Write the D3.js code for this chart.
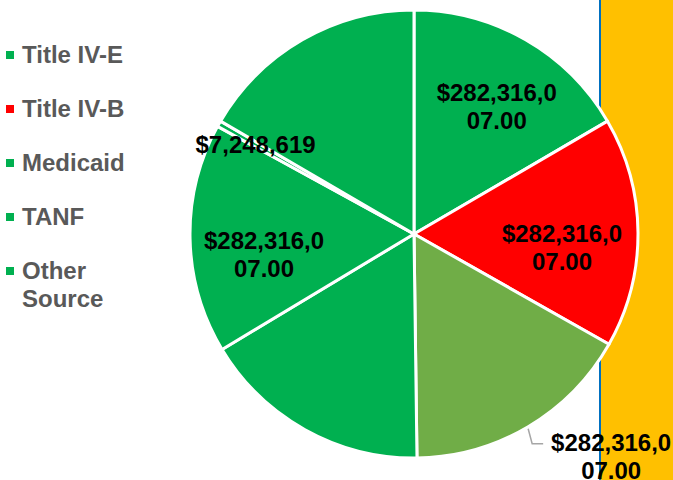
<!DOCTYPE html>
<html>
<head>
<meta charset="utf-8">
<script src="https://cdn.jsdelivr.net/npm/d3@7"></script>
<style>
  body { margin: 0; background: #fff; }
  svg { display: block; font-family: "Liberation Sans", Arial, sans-serif; }
</style>
</head>
<body>
<div class="canvas"></div>
<script>
// legend entries
const legendNames = ['Title IV-E', 'Title IV-B', 'Medicaid', 'TANF', 'Other Source'];
const legendColors = ['#00B050', '#FF0000', '#00B050', '#00B050', '#00B050'];

// slices, clockwise from 12 o'clock
const sliceValues = [282316007, 282316007, 282316007, 282316007, 282316007, 7248619, 282316007];
const sliceLabels = ['$282,316,007.00', '$282,316,007.00', '$282,316,007.00', '', '$282,316,007.00', '$7,248,619', ''];
const sliceColors = ['#00B050', '#FF0000', '#70AD47', '#00B050', '#00B050', '#00B050', '#00B050'];

const dims = {width: 673, height: 480, radius: 224};
const cent = {x: 414, y: 234};

const svg = d3.select('.canvas')
    .append('svg').attr('width', dims.width).attr('height', dims.height);

// orange shape sitting behind the pie on the right
svg.append('rect')
    .attr('x', 601).attr('y', 0).attr('width', 72).attr('height', dims.height)
    .attr('fill', '#FFC000');
svg.append('rect')
    .attr('x', 599).attr('y', 0).attr('width', 2).attr('height', dims.height)
    .attr('fill', '#0070C0');

const graph = svg.append('g').attr('transform', `translate(${cent.x},${cent.y})`);

const pie = d3.pie().value(d => d).sort(null);
const arcPath = d3.arc().innerRadius(0).outerRadius(dims.radius);

const arcs = pie(sliceValues);

graph.selectAll('path')
    .data(arcs)
    .enter().append('path')
        .attr('d', arcPath)
        .attr('fill', (d, i) => sliceColors[i])
        .attr('stroke', '#fff')
        .attr('stroke-width', 3)
        .attr('stroke-linejoin', 'round');

// wrap long labels after 10 chars, like the original
const wrap = s => s.length > 10 ? [s.slice(0, 10), s.slice(10)] : [s];
const lineH = 28;

// label placement tweaks (radius + block centre offsets)
const place = {
    0: {r: 148, dx: 9, dy: 1},
    1: {r: 148, dx: 0, dy: 14},
    4: {r: 150, dx: 0, dy: 17},
    5: {r: 182, dx: 0, dy: 0}
};

arcs.forEach((d, i) => {
    const txt = sliceLabels[i];
    if (!txt) return;
    const lines = wrap(txt);
    let cx, cy;
    const mid = (d.startAngle + d.endAngle) / 2;
    if (place[i]) {
        cx = Math.sin(mid) * place[i].r + place[i].dx;
        cy = -Math.cos(mid) * place[i].r + place[i].dy;
    } else {
        // outside label with leader line
        const ex = Math.sin(mid) * dims.radius, ey = -Math.cos(mid) * dims.radius;
        graph.append('polyline')
            .attr('points', `${ex},${ey + 2} ${ex + 4},${ey + 17} ${ex + 15},${ey + 17}`)
            .attr('fill', 'none')
            .attr('stroke', '#A6A6A6')
            .attr('stroke-width', 1.5);
        cx = ex + 83;
        cy = ey + 30;
    }
    const t = graph.append('text')
        .attr('text-anchor', 'middle')
        .attr('font-weight', 'bold')
        .attr('font-size', 24)
        .attr('fill', '#000');
    lines.forEach((ln, j) => {
        t.append('tspan')
            .attr('x', cx)
            .attr('y', cy + (j - (lines.length - 1) / 2) * lineH + 8.5)
            .text(ln);
    });
});

// legend
const legend = svg.append('g');
const rows = [63, 117, 171, 225, 279];
legendNames.forEach((name, i) => {
    const y = rows[i];
    legend.append('rect')
        .attr('x', 6).attr('y', y - 12).attr('width', 8).attr('height', 8)
        .attr('fill', legendColors[i]);
    const t = legend.append('text')
        .attr('x', 22).attr('y', y)
        .attr('font-weight', 'bold')
        .attr('font-size', 24)
        .attr('fill', '#595959');
    name === 'Other Source'
        ? name.split(' ').forEach((w, j) => t.append('tspan').attr('x', 22).attr('y', y + j * 28).text(w))
        : t.text(name);
});
</script>
</body>
</html>
